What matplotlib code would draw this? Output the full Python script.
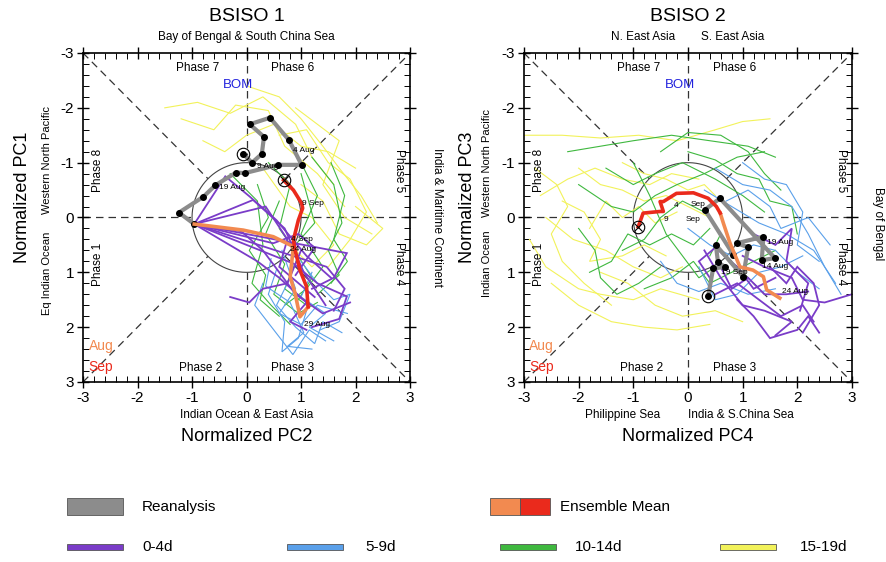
import numpy as np
import matplotlib
matplotlib.use("Agg")
import matplotlib.pyplot as plt
from matplotlib.patches import Rectangle

plt.rcParams["font.family"] = ["Liberation Sans", "DejaVu Sans"]
plt.rcParams["axes.unicode_minus"] = False

# ---------------- data: BSISO 1 (x = PC2, y = PC1) ----------------
b1_reanalysis = [(-0.06, -1.16), (0.10, -1.00), (0.28, -1.16), (0.32, -1.47), (0.06, -1.70),
                 (0.43, -1.82), (0.78, -1.41), (1.01, -0.96), (0.58, -0.96), (-0.03, -0.81),
                 (-0.19, -0.82), (-0.57, -0.59), (-0.79, -0.38), (-1.24, -0.09), (-0.96, 0.12)]
b1_ens_aug = [(-0.96, 0.12), (-0.06, 0.23), (0.49, 0.35), (0.86, 0.53), (0.80, 1.08),
              (0.89, 1.38), (0.98, 1.81), (1.13, 1.63)]
b1_ens_sep = [(1.13, 1.63), (1.10, 1.26), (0.98, 0.96), (0.89, 0.59), (0.86, 0.41),
              (0.95, 0.05), (1.03, -0.17), (1.01, -0.26), (0.86, -0.50), (0.68, -0.68)]
b1_dates = [("4 Aug", 0.85, -1.22), ("9 Aug", 0.20, -0.93), ("19 Aug", -0.50, -0.55),
            ("9 Sep", 1.02, -0.26), ("4 Sep", 0.82, 0.40), ("24 Aug", 0.80, 0.58),
            ("29 Aug", 1.05, 1.95)]

b1_lead04 = [
    [(-0.96, 0.12), (-0.39, -0.75), (0.06, -0.38), (0.55, 0.05), (1.10, 0.70), (1.55, 1.10)],
    [(-0.96, 0.12), (0.12, -0.32), (0.70, 0.20), (1.05, 1.00), (1.45, 1.60)],
    [(-0.96, 0.12), (0.86, 0.84), (1.30, 1.20), (1.84, 1.44), (1.70, 1.85), (1.20, 2.00)],
    [(-0.96, 0.12), (1.47, 0.90), (1.80, 1.30), (1.60, 1.70)],
    [(-0.96, 0.12), (1.84, 0.65), (1.60, 1.10), (1.20, 1.30)],
    [(-0.96, 0.12), (0.49, 0.47), (0.95, 0.30), (1.25, 0.55), (0.90, 1.05)],
    [(-0.96, 0.12), (0.20, 0.80), (0.60, 1.10), (1.10, 1.55), (0.80, 1.90), (1.10, 2.05)],
    [(-0.96, 0.12), (-0.10, 0.25), (0.30, 0.60), (0.90, 1.40), (1.40, 1.75), (1.90, 1.55)],
    [(-0.30, 1.45), (0.05, 1.55), (0.30, 1.30), (0.75, 1.20), (1.00, 0.60)],
    [(-0.96, 0.12), (0.35, -0.20), (0.75, 0.40), (0.60, 0.90), (1.25, 1.45)],
]
b1_lead59 = [
    [(0.55, 0.95), (0.40, 1.40), (0.70, 1.90), (0.65, 2.45), (0.95, 2.20), (1.10, 1.70)],
    [(0.80, 1.10), (0.55, 1.60), (0.90, 2.00), (1.25, 2.30), (1.40, 1.90), (1.75, 2.10)],
    [(0.30, 1.20), (0.15, 1.60), (0.50, 2.05), (0.85, 2.50), (1.15, 2.05), (1.45, 2.25)],
    [(1.00, 0.80), (1.30, 1.20), (1.60, 1.50), (1.90, 1.40), (1.70, 1.90), (1.35, 2.05)],
    [(0.65, 0.60), (0.90, 1.30), (0.60, 1.75), (1.00, 1.95), (1.30, 1.60), (1.85, 1.75)],
    [(0.45, 0.75), (0.35, 1.25), (0.80, 1.55), (1.05, 2.10), (0.75, 2.35), (1.20, 2.40)],
    [(1.20, 1.00), (1.00, 1.45), (1.45, 1.75), (1.15, 2.00), (1.60, 2.25)],
]
b1_lead1014 = [
    [(-0.30, -0.80), (0.20, -0.30), (0.30, 0.50), (0.10, 1.20), (0.45, 1.60), (0.80, 1.95)],
    [(0.40, -1.00), (0.80, -0.60), (0.60, 0.20), (0.95, 0.70), (0.70, 1.30), (1.10, 1.60)],
    [(1.20, -1.10), (1.60, -0.60), (1.75, 0.10), (1.50, 0.60), (1.70, 1.05), (1.30, 1.40)],
    [(0.90, -1.20), (1.30, -0.40), (1.00, 0.30), (1.40, 0.90), (1.10, 1.30), (0.70, 1.60)],
    [(0.20, -0.60), (0.40, 0.00), (0.05, 0.60), (0.35, 1.05), (0.25, 1.50), (0.60, 1.80)],
    [(1.55, -1.00), (1.80, -0.40), (1.60, 0.40), (1.85, 0.80), (1.55, 1.20)],
    [(0.60, -0.30), (0.35, 0.30), (0.70, 0.85), (0.50, 1.40), (0.95, 1.75), (1.30, 1.55)],
    [(1.00, -0.80), (1.25, 0.10), (0.85, 0.55), (1.20, 1.10), (0.95, 1.50)],
]
b1_lead1519 = [
    [(-1.50, -2.00), (-0.90, -2.10), (-0.30, -1.90), (0.30, -2.20), (0.90, -1.70), (1.20, -1.10), (1.60, -0.60)],
    [(-1.20, -1.80), (-0.60, -1.60), (-0.20, -2.05), (0.40, -1.95), (0.70, -1.30), (1.30, -0.80), (1.80, -0.20)],
    [(0.00, -2.40), (0.60, -2.20), (1.00, -1.80), (1.40, -1.30), (1.70, -0.90), (2.10, -0.40), (2.40, 0.10)],
    [(0.60, -1.50), (1.10, -1.60), (1.50, -1.00), (1.90, -0.70), (2.20, -0.10), (1.90, 0.40), (1.50, 0.90)],
    [(1.00, -0.60), (1.40, -0.30), (1.70, 0.30), (2.20, 0.50), (2.50, 0.20), (2.00, -0.20)],
    [(0.30, -0.90), (0.80, -0.20), (1.20, 0.00), (1.60, 0.50), (1.20, 0.90), (0.90, 0.60)],
    [(-0.80, -1.40), (-0.40, -1.20), (0.00, -1.50), (0.50, -1.70), (1.00, -1.30), (1.50, -1.20), (2.00, -0.90)],
    [(0.90, -2.00), (1.30, -1.70), (1.70, -1.40), (1.40, -0.60), (1.80, 0.00), (2.30, 0.30)],
]

# ---------------- data: BSISO 2 (x = PC4, y = PC3) ----------------
b2_reanalysis = [(0.37, 1.44), (0.46, 0.93), (0.68, 0.90), (0.55, 0.82), (0.51, 0.50),
                 (1.01, 1.08), (1.10, 0.54), (0.89, 0.47), (1.38, 0.35), (1.35, 0.78),
                 (1.59, 0.74), (0.585, -0.35), (0.31, -0.14), (0.83, 0.68)]
b2_ens_aug = [(1.68, 1.47), (1.44, 1.32), (1.38, 1.08), (1.19, 0.96), (0.95, 0.90),
              (0.77, 0.47), (0.65, 0.11), (0.59, -0.08)]
b2_ens_sep = [(0.59, -0.08), (0.52, -0.20), (0.37, -0.35), (0.10, -0.45), (-0.21, -0.44),
              (-0.45, -0.29), (-0.51, -0.29), (-0.45, -0.11), (-0.51, -0.11), (-0.82, -0.08),
              (-0.91, 0.17)]
b2_dates = [("4", -0.25, -0.22), ("Sep", 0.05, -0.24), ("9", -0.45, 0.03), ("Sep", -0.05, 0.03),
            ("19 Aug", 1.45, 0.45), ("19 Sep", 0.60, 1.00), ("14 Aug", 1.35, 0.90),
            ("24 Aug", 1.72, 1.35)]

b2_lead04 = [
    [(0.40, 1.10), (0.20, 0.80), (0.50, 0.55), (0.90, 0.90), (1.20, 1.30), (1.60, 1.10)],
    [(0.50, 1.40), (0.90, 1.20), (1.30, 1.50), (1.70, 1.80), (2.10, 1.60), (2.30, 1.90)],
    [(0.90, 1.50), (1.20, 1.80), (1.50, 2.20), (2.00, 2.05), (2.20, 1.80), (2.40, 2.10)],
    [(1.00, 0.70), (1.40, 0.90), (1.90, 1.10), (2.10, 1.50), (2.50, 1.55), (3.00, 1.40)],
    [(1.20, 0.30), (1.60, 0.50), (1.90, 0.20), (1.80, 0.80), (2.20, 1.20), (2.05, 1.70)],
    [(0.60, 0.90), (0.80, 1.30), (1.10, 1.10), (1.40, 1.40), (1.80, 1.40), (2.20, 1.35)],
    [(0.30, 0.60), (0.60, 1.10), (1.00, 1.60), (1.40, 1.70), (1.90, 1.90), (1.60, 2.15)],
    [(1.50, 0.90), (1.80, 1.20), (2.00, 0.90), (2.30, 1.20), (2.40, 1.60), (2.10, 2.10)],
]
b2_lead59 = [
    [(0.50, -0.90), (1.00, -0.60), (1.50, -0.50), (1.90, -0.20), (2.20, 0.30), (2.50, 0.90), (2.80, 1.40)],
    [(0.30, -0.50), (0.80, -0.20), (1.30, 0.10), (1.80, 0.30), (2.30, 0.60), (2.70, 1.20)],
    [(0.00, 0.20), (0.40, 0.50), (0.80, 0.70), (1.20, 0.50), (1.60, 0.60), (2.00, 1.00), (2.40, 1.30)],
    [(-0.50, 0.80), (-0.20, 1.20), (0.20, 1.35), (0.60, 1.20), (1.10, 1.40), (1.60, 1.30)],
    [(1.00, -1.00), (1.40, -0.70), (1.80, -0.60), (2.10, -0.10), (2.00, 0.50), (2.40, 0.80)],
    [(0.20, 0.90), (0.50, 1.50), (0.90, 1.40), (1.30, 1.00), (1.70, 0.90), (2.10, 0.70)],
    [(0.70, -0.30), (1.10, -0.50), (1.50, -0.20), (1.70, 0.20), (2.20, 0.00), (2.60, 0.50)],
]
b2_lead1014 = [
    [(-2.20, -1.20), (-1.60, -1.30), (-1.00, -1.40), (-0.30, -1.50), (0.40, -1.40), (1.10, -1.30), (1.60, -1.10)],
    [(-2.00, 0.20), (-1.70, 0.60), (-1.60, 1.10), (-1.30, 1.40), (-0.90, 1.20), (-0.50, 0.90)],
    [(-1.50, -0.90), (-1.00, -0.60), (-0.60, -0.80), (-0.10, -1.00), (0.50, -0.70), (1.00, -0.40), (1.40, -0.10)],
    [(-1.20, 0.60), (-0.80, 0.40), (-0.50, 0.00), (-0.10, -0.30), (0.30, -0.10), (0.60, 0.30), (0.40, 0.70)],
    [(-2.00, -0.60), (-1.40, -0.20), (-1.00, -0.10), (-0.60, -0.40), (-0.20, -0.60), (0.30, -0.80), (0.90, -1.10), (1.40, -1.20)],
    [(-0.80, 1.30), (-0.30, 1.10), (0.10, 0.80), (0.40, 1.20), (0.80, 1.00), (1.20, 0.80), (1.60, 0.60)],
    [(-1.80, 1.00), (-1.40, 0.80), (-1.10, 0.30), (-0.70, 0.50), (-0.30, 0.30), (0.10, 0.50), (0.40, 0.20)],
    [(0.00, -1.20), (0.50, -1.05), (0.90, -0.80), (1.30, -0.70), (1.50, -0.30), (1.90, -0.20), (2.00, 0.30)],
    [(-1.00, -1.00), (-0.70, -0.40), (-0.40, 0.30), (-0.10, 0.70), (0.20, 1.10), (0.50, 0.90)],
    [(-0.50, -1.20), (0.00, -1.55), (0.60, -1.50), (1.10, -1.20), (1.40, -0.80), (1.70, -0.50)],
]
b2_lead1519 = [
    [(-3.00, -1.50), (-2.30, -1.50), (-1.60, -1.45), (-0.90, -1.50), (-0.20, -1.40), (0.50, -1.60), (1.00, -1.75), (1.50, -1.80)],
    [(-2.80, -0.90), (-2.40, -0.60), (-2.20, -0.20), (-2.50, 0.30), (-2.30, 0.80), (-1.90, 1.20), (-1.40, 1.60)],
    [(-2.00, -0.90), (-1.60, -0.60), (-1.20, -0.50), (-0.80, -0.30), (-0.40, -0.40), (0.00, -0.20), (0.40, 0.00)],
    [(-2.50, 1.20), (-2.00, 1.60), (-1.40, 1.90), (-0.80, 2.00), (-0.20, 2.05), (0.40, 1.95)],
    [(-1.80, 0.20), (-1.50, -0.30), (-1.20, 0.00), (-0.90, -0.20), (-0.60, 0.10), (-0.20, -0.10)],
    [(-2.90, 0.40), (-2.60, 0.90), (-2.00, 1.30), (-1.60, 1.40), (-1.00, 1.50), (-0.50, 1.30), (0.20, 1.50)],
    [(-1.20, -1.00), (-0.80, -0.80), (-0.40, -0.70), (0.00, -0.50), (0.30, -0.60), (0.50, -0.40)],
    [(-2.30, -0.30), (-1.90, -0.10), (-1.60, 0.40), (-1.80, 0.80), (-1.20, 0.70), (-0.80, 0.50), (-0.40, 0.70)],
    [(-2.70, -0.40), (-2.20, -0.70), (-1.70, -0.90), (-1.20, -0.70), (-0.70, -0.60), (-0.30, -0.80), (0.20, -0.70)],
    [(-1.60, 1.00), (-1.10, 1.20), (-0.60, 1.60), (-0.10, 1.80), (0.50, 1.70), (1.00, 1.90)],
    [(-2.60, 0.00), (-2.10, 0.40), (-1.50, 0.60), (-1.00, 0.90), (-0.50, 1.10), (-0.10, 0.90)],
]

ticks = [-3, -2, -1, 0, 1, 2, 3]
phase_labels = [("Phase 7", -0.9, -2.72, 0), ("Phase 6", 0.85, -2.72, 0),
                ("Phase 8", -2.72, -0.85, 90), ("Phase 5", 2.8, -0.85, -90),
                ("Phase 1", -2.72, 0.85, 90), ("Phase 4", 2.8, 0.85, -90),
                ("Phase 2", -0.85, 2.75, 0), ("Phase 3", 0.85, 2.75, 0)]

C_PURPLE = "#7a3cc8"
C_BLUE = "#5aa0ea"
C_GREEN = "#3fb83f"
C_YELLOW = "#f2f25a"
C_GRAY = "#8c8c8c"
C_ORANGE = "#f28a50"
C_RED = "#ea2a1c"


def draw_lines(ax, paths, color, lw):
    for p in paths:
        xy = np.array(p)
        ax.plot(xy[:, 0], xy[:, 1], color=color, lw=lw, solid_joinstyle="miter")


def setup(ax):
    ax.set_xlim(-3, 3)
    ax.set_ylim(3, -3)
    ax.set_xticks(ticks)
    ax.set_yticks(ticks)
    ax.set_xticks(np.arange(-3, 3.01, 0.2), minor=True)
    ax.set_yticks(np.arange(-3, 3.01, 0.2), minor=True)
    ax.tick_params(which="major", direction="inout", length=9, width=1.0,
                   top=True, right=True, labelsize=11, pad=2)
    ax.tick_params(which="minor", direction="in", length=4, width=0.7, top=True, right=True)
    for s in ax.spines.values():
        s.set_linewidth(1.2)
    # phase dividers: dashed from edges to the unit circle
    r = 1.0
    d = r / np.sqrt(2)
    kw = dict(color="#333333", lw=0.9, ls=(0, (6, 4)), zorder=1)
    ax.plot([-3, -r], [0, 0], **kw); ax.plot([r, 3], [0, 0], **kw)
    ax.plot([0, 0], [-3, -r], **kw); ax.plot([0, 0], [r, 3], **kw)
    ax.plot([-3, -d], [-3, -d], **kw); ax.plot([d, 3], [d, 3], **kw)
    ax.plot([-3, -d], [3, d], **kw); ax.plot([d, 3], [-d, -3], **kw)
    th = np.linspace(0, 2 * np.pi, 200)
    ax.plot(np.cos(th), np.sin(th), color="#444444", lw=0.8, zorder=1)
    for txt, x, y, rot in phase_labels:
        ax.text(x, y, txt, ha="center", va="center", rotation=rot, fontsize=8.5)
    ax.text(-0.15, -2.42, "BOM", color="#2222dd", ha="center", va="center", fontsize=9.5)
    ax.text(-2.9, 2.35, "Aug", color=C_ORANGE, ha="left", va="center", fontsize=10)
    ax.text(-2.9, 2.72, "Sep", color=C_RED, ha="left", va="center", fontsize=10)


def draw_panel(ax, leads, rean, aug, sep, dates, start_mark_rean, end_mark_ens):
    draw_lines(ax, leads[3], C_YELLOW, 0.8)
    draw_lines(ax, leads[2], C_GREEN, 0.8)
    draw_lines(ax, leads[1], C_BLUE, 0.8)
    draw_lines(ax, leads[0], C_PURPLE, 1.3)
    r = np.array(rean)
    ax.plot(r[:, 0], r[:, 1], color=C_GRAY, lw=3, zorder=5)
    ax.plot(r[:, 0], r[:, 1], "o", color="black", ms=4, zorder=6)
    a = np.array(aug); s = np.array(sep)
    ax.plot(a[:, 0], a[:, 1], color=C_ORANGE, lw=2.6, zorder=7)
    ax.plot(s[:, 0], s[:, 1], color=C_RED, lw=2.6, zorder=7)
    sx, sy = start_mark_rean
    ax.plot(sx, sy, "o", ms=9, mfc="none", mec="black", mew=0.8, zorder=8)
    ex, ey = end_mark_ens
    ax.plot(ex, ey, "o", ms=9, mfc="none", mec="black", mew=0.8, zorder=8)
    ax.plot(ex, ey, "x", ms=6, color="black", mew=0.8, zorder=8)
    for txt, x, y in dates:
        ax.text(x, y, txt, fontsize=6, ha="left", va="center", zorder=9)


fig = plt.figure(figsize=(8.87, 5.62), dpi=100)
ax1 = fig.add_axes([0.0936, 0.3203, 0.3687, 0.5854])
ax2 = fig.add_axes([0.5907, 0.3203, 0.3698, 0.5854])

setup(ax1)
draw_panel(ax1, [b1_lead04, b1_lead59, b1_lead1014, b1_lead1519],
           b1_reanalysis, b1_ens_aug, b1_ens_sep, b1_dates,
           b1_reanalysis[0], b1_ens_sep[-1])
setup(ax2)
draw_panel(ax2, [b2_lead04, b2_lead59, b2_lead1014, b2_lead1519],
           b2_reanalysis, b2_ens_aug, b2_ens_sep, b2_dates,
           b2_reanalysis[0], b2_ens_sep[-1])

# titles and region labels
ax1.text(0.5, 1.11, "BSISO 1", transform=ax1.transAxes, ha="center", va="center", fontsize=14)
ax1.text(0.5, 1.05, "Bay of Bengal & South China Sea", transform=ax1.transAxes,
         ha="center", va="center", fontsize=8.5)
ax1.text(0.5, -0.10, "Indian Ocean & East Asia", transform=ax1.transAxes,
         ha="center", va="center", fontsize=8.5)
ax1.text(0.5, -0.167, "Normalized PC2", transform=ax1.transAxes, ha="center", va="center", fontsize=13)
ax1.text(-0.185, 0.56, "Normalized PC1", transform=ax1.transAxes, ha="center", va="center",
         rotation=90, fontsize=13)
ax1.text(-0.11, 0.33, "Eq Indian Ocean", transform=ax1.transAxes, ha="center", va="center",
         rotation=90, fontsize=8)
ax1.text(-0.11, 0.675, "Western North Pacific", transform=ax1.transAxes, ha="center", va="center",
         rotation=90, fontsize=8)
ax1.text(1.083, 0.5, "India & Maritime Continent", transform=ax1.transAxes, ha="center",
         va="center", rotation=-90, fontsize=8.5)

ax2.text(0.5, 1.11, "BSISO 2", transform=ax2.transAxes, ha="center", va="center", fontsize=14)
ax2.text(0.363, 1.05, "N. East Asia", transform=ax2.transAxes, ha="center", va="center", fontsize=8.5)
ax2.text(0.637, 1.05, "S. East Asia", transform=ax2.transAxes, ha="center", va="center", fontsize=8.5)
ax2.text(0.30, -0.10, "Philippine Sea", transform=ax2.transAxes, ha="center", va="center", fontsize=8.5)
ax2.text(0.66, -0.10, "India & S.China Sea", transform=ax2.transAxes, ha="center", va="center",
         fontsize=8.5)
ax2.text(0.5, -0.167, "Normalized PC4", transform=ax2.transAxes, ha="center", va="center", fontsize=13)
ax2.text(-0.171, 0.56, "Normalized PC3", transform=ax2.transAxes, ha="center", va="center",
         rotation=90, fontsize=13)
ax2.text(-0.113, 0.36, "Indian Ocean", transform=ax2.transAxes, ha="center", va="center",
         rotation=90, fontsize=8)
ax2.text(-0.113, 0.665, "Western North Pacific", transform=ax2.transAxes, ha="center", va="center",
         rotation=90, fontsize=8)
ax2.text(1.08, 0.48, "Bay of Bengal", transform=ax2.transAxes, ha="center", va="center",
         rotation=-90, fontsize=8.5)

# legend
def legend_box(x, y, w, h, color):
    fig.patches.append(Rectangle((x, y - h / 2), w, h, transform=fig.transFigure,
                                 facecolor=color, edgecolor="#555555", lw=0.6))

legend_box(0.0755, 0.098, 0.063, 0.030, C_GRAY)
fig.text(0.160, 0.098, "Reanalysis", ha="left", va="center", fontsize=11)
legend_box(0.552, 0.098, 0.034, 0.030, C_ORANGE)
legend_box(0.586, 0.098, 0.034, 0.030, C_RED)
fig.text(0.631, 0.098, "Ensemble Mean", ha="left", va="center", fontsize=11)

lead_names = ["0-4d", "5-9d", "10-14d", "15-19d"]
lead_colors = [C_PURPLE, C_BLUE, C_GREEN, C_YELLOW]
lead_box_x = [0.0755, 0.3236, 0.5637, 0.8117]
lead_text_x = [0.161, 0.4115, 0.648, 0.902]
for name, c, bx, tx in zip(lead_names, lead_colors, lead_box_x, lead_text_x):
    legend_box(bx, 0.027, 0.063, 0.011, c)
    fig.text(tx, 0.027, name, ha="left", va="center", fontsize=11)

fig.savefig("out.png", dpi=100)
